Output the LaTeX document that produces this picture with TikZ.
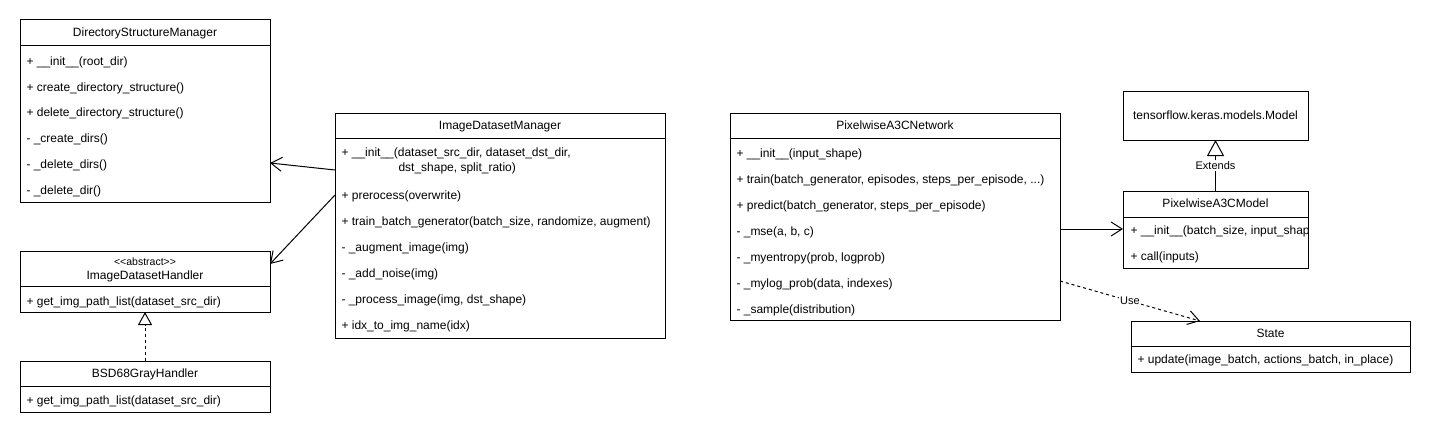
\documentclass[tikz,border=0pt]{standalone}
\usepackage{fontspec}
\setmainfont{Liberation Sans}
\usetikzlibrary{arrows.meta}

\begin{document}
\begin{tikzpicture}[x=1pt,y=-1pt,line width=1pt,font=\fontsize{12}{14}\selectfont]
\tikzstyle{cls}=[rectangle,draw=black,anchor=north west,inner sep=0pt,outer sep=0pt]
\tikzstyle{ttl}=[anchor=base,inner sep=0pt]
\tikzstyle{op}=[anchor=base west,inner sep=0pt]
\tikzstyle{lbl}=[fill=white,inner sep=1pt,font=\fontsize{11}{13}\selectfont]
\tikzstyle{assoc}=[-{Straight Barb[length=11pt,width=14pt]}]
\tikzstyle{uses}=[dash pattern=on 3pt off 3pt,-{Straight Barb[length=11pt,width=14pt]}]
\tikzstyle{real}=[dash pattern=on 3pt off 3pt,-{Triangle[open,length=13pt,width=14pt]}]
\tikzstyle{ext}=[-{Triangle[open,length=16pt,width=17pt]}]
\fill[white] (0,0) rectangle (1431,436);
\useasboundingbox (0,0) rectangle (1431,436);
% class boxes
\node [cls,minimum width=250pt,minimum height=182pt] (dsm) at(20,20) {};
\node [cls,minimum width=250pt,minimum height=61pt] (idh) at(20,251) {};
\node [cls,minimum width=250pt,minimum height=51pt] (bsd) at(20,361) {};
\node [cls,minimum width=330pt,minimum height=225pt] (idm) at(335,113) {};
\node [cls,minimum width=330pt,minimum height=207pt] (pan) at(730,113) {};
\node [cls,minimum width=185pt,minimum height=49pt] (tkm) at(1123,91) {};
\node [cls,minimum width=185pt,minimum height=77pt] (pam) at(1123,191) {};
\node [cls,minimum width=279pt,minimum height=51pt] (state) at(1131,321) {};
% header lines
\draw ([yshift=-26pt]dsm.north west) -- ([yshift=-26pt]dsm.north east);
\draw ([yshift=-35pt]idh.north west) -- ([yshift=-35pt]idh.north east);
\draw ([yshift=-25pt]bsd.north west) -- ([yshift=-25pt]bsd.north east);
\draw ([yshift=-25pt]idm.north west) -- ([yshift=-25pt]idm.north east);
\draw ([yshift=-25pt]pan.north west) -- ([yshift=-25pt]pan.north east);
\draw ([yshift=-26pt]pam.north west) -- ([yshift=-26pt]pam.north east);
\draw ([yshift=-25pt]state.north west) -- ([yshift=-25pt]state.north east);
% DirectoryStructureManager
\node [ttl] (dsmt) at(145,37) {DirectoryStructureManager};
\node [op] (dsm1) at(26,65) {+ \_\_init\_\_(root\_dir)};
\node [op] (dsm2) at(26,91) {+ create\_directory\_structure()};
\node [op] (dsm3) at(26,116) {+ delete\_directory\_structure()};
\node [op] (dsm4) at(26,142) {- \_create\_dirs()};
\node [op] (dsm5) at(26,168) {- \_delete\_dirs()};
\node [op] (dsm6) at(26,194) {- \_delete\_dir()};
% ImageDatasetHandler
\node [ttl,font=\fontsize{10.5}{12}\selectfont] (idhs) at(145,265) {\textless\kern0pt\textless abstract\textgreater\kern0pt\textgreater};
\node [ttl] (idht) at(145,279) {ImageDatasetHandler};
\node [op] (idh1) at(26,305) {+ get\_img\_path\_list(dataset\_src\_dir)};
% BSD68GrayHandler
\node [ttl] (bsdt) at(145,377) {BSD68GrayHandler};
\node [op] (bsd1) at(26,404) {+ get\_img\_path\_list(dataset\_src\_dir)};
% ImageDatasetManager
\node [ttl] (idmt) at(500,129) {ImageDatasetManager};
\node [op] (idm1) at(341,156) {+ \_\_init\_\_(dataset\_src\_dir, dataset\_dst\_dir,};
\node [op] (idm1b) at(398,171) {dst\_shape, split\_ratio)};
\node [op] (idm2) at(341,199) {+ prerocess(overwrite)};
\node [op] (idm3) at(341,225) {+ train\_batch\_generator(batch\_size, randomize, augment)};
\node [op] (idm4) at(341,251) {- \_augment\_image(img)};
\node [op] (idm5) at(341,277) {- \_add\_noise(img)};
\node [op] (idm6) at(341,303) {- \_process\_image(img, dst\_shape)};
\node [op] (idm7) at(341,329) {+ idx\_to\_img\_name(idx)};
% PixelwiseA3CNetwork
\node [ttl] (pant) at(895,129) {PixelwiseA3CNetwork};
\node [op] (pan1) at(736,157) {+ \_\_init\_\_(input\_shape)};
\node [op] (pan2) at(736,183) {+ train(batch\_generator, episodes, steps\_per\_episode, ...)};
\node [op] (pan3) at(736,209) {+ predict(batch\_generator, steps\_per\_episode)};
\node [op] (pan4) at(736,235) {- \_mse(a, b, c)};
\node [op] (pan5) at(736,261) {- \_myentropy(prob, logprob)};
\node [op] (pan6) at(736,287) {- \_mylog\_prob(data, indexes)};
\node [op] (pan7) at(736,313) {- \_sample(distribution)};
% tensorflow.keras.models.Model
\node [ttl] (tkmt) at(1215.5,119) {tensorflow.keras.models.Model};
% PixelwiseA3CModel
\node [ttl] (pamt) at(1215.5,207) {PixelwiseA3CModel};
\begin{scope}
\clip (pam.north west) rectangle ([xshift=-1pt]pam.south east);
\node [op] (pam1) at(1130,234) {+ \_\_init\_\_(batch\_size, input\_shape)};
\end{scope}
\node [op] (pam2) at(1130,260) {+ call(inputs)};
% State
\node [ttl] (statet) at(1270.5,337) {State};
\node [op] (state1) at(1137,363) {+ update(image\_batch, actions\_batch, in\_place)};
% relations
\draw [assoc] ([yshift=-57pt]idm.north west) -- ([yshift=-143pt]dsm.north east);
\draw [assoc] ([yshift=-82pt]idm.north west) -- ([yshift=-13pt]idh.north east);
\draw [real] (bsd.north) -- (idh.south);
\draw [ext] (pam.north) -- node [lbl] {Extends} (tkm.south);
\draw [assoc] ([yshift=-116pt]pan.north east) -- ([yshift=-38pt]pam.north west);
\draw [uses] ([yshift=-168pt]pan.north east) -- node [lbl] {Use} ([xshift=69pt]state.north west);
\end{tikzpicture}
\end{document}
